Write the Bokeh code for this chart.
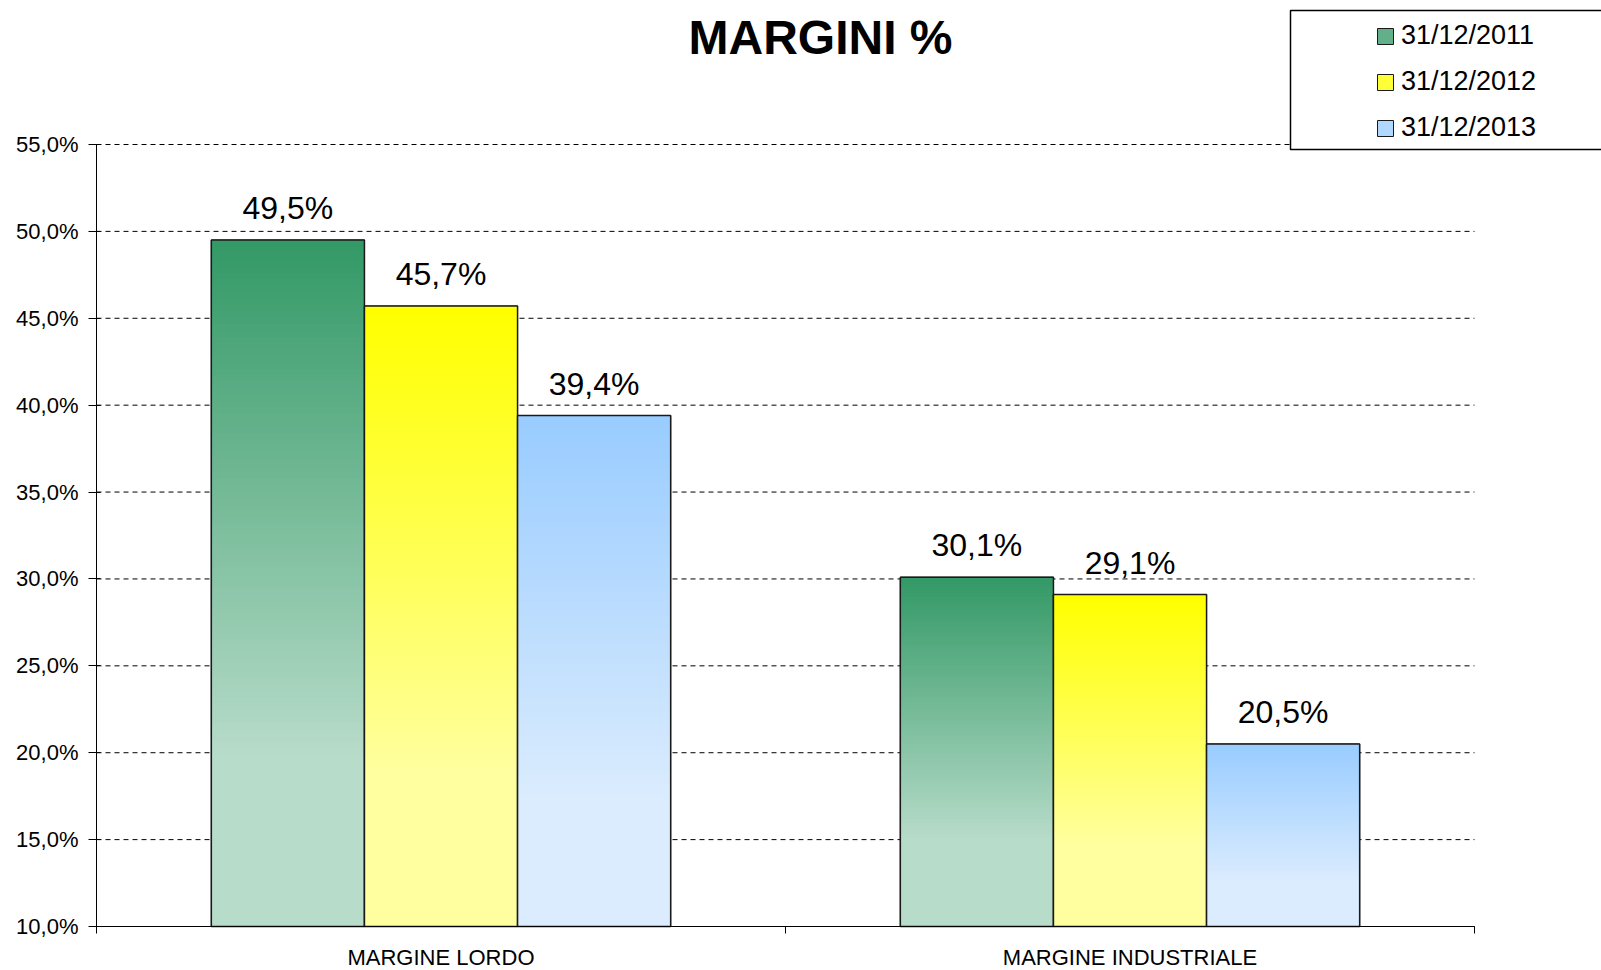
from bokeh.plotting import figure
from bokeh.models import Range1d, FixedTicker, Label, Legend, LegendItem, BoxAnnotation
from bokeh.core.properties import value
from bokeh.embed import file_html
from bokeh.resources import INLINE

# ---------------- data ----------------
categories = ["MARGINE LORDO", "MARGINE INDUSTRIALE"]
series_names = ["31/12/2011", "31/12/2012", "31/12/2013"]
margins_2011 = [49.5, 30.1]
margins_2012 = [45.7, 29.1]
margins_2013 = [39.4, 20.5]
y_ticks = [10, 15, 20, 25, 30, 35, 40, 45, 50, 55]
y_tick_labels = ["10,0%", "15,0%", "20,0%", "25,0%", "30,0%",
                 "35,0%", "40,0%", "45,0%", "50,0%", "55,0%"]
title_text = "MARGINI %"

# ---------------- style / layout ----------------
FONT = "Liberation Sans"
dark_colors = ["#339966", "#FFFF00", "#99CCFF"]
light_colors = ["#B8DCCA", "#FFFFA0", "#DBECFE"]
edge = "#1A1A1A"

W, H = 1601, 970
# pixel box of the plotting area inside the canvas
PL, PR, PT, PB = 96, 1474, 144, 926
Y0, Y1 = y_ticks[0], y_ticks[-1]
X0, X1 = 0, len(categories)
sx = (PR - PL) / (X1 - X0)   # px per x unit
sy = (PB - PT) / (Y1 - Y0)   # px per y unit
x_range = Range1d(X0 - PL / sx, X1 + (W - PR) / sx)
y_range = Range1d(Y0 - (H - PB) / sy, Y1 + PT / sy)


def px_to_data(px, py):
    """canvas pixel -> data coordinates (used only to place texts / legend frame)"""
    return X0 + (px - PL) / sx, Y0 + (PB - py) / sy


def hex2rgb(h):
    h = h.lstrip("#")
    return tuple(int(h[i:i + 2], 16) for i in (0, 2, 4))


def mix(c1, c2, t):
    a, b = hex2rgb(c1), hex2rgb(c2)
    return "#%02x%02x%02x" % tuple(int(round(a[i] + (b[i] - a[i]) * t)) for i in range(3))


def fmt(v):
    return ("%.1f%%" % v).replace(".", ",")


p = figure(width=W, height=H, x_range=x_range, y_range=y_range,
           output_backend="svg", toolbar_location=None,
           min_border=0, min_border_left=0, min_border_right=0,
           min_border_top=0, min_border_bottom=0)
p.outline_line_color = None
p.background_fill_color = "white"
p.border_fill_color = "white"

# ---------------- axes (fixed inside the canvas) ----------------
p.yaxis.fixed_location = X0
p.yaxis.bounds = (Y0, Y1)
p.yaxis.ticker = FixedTicker(ticks=y_ticks)
p.yaxis.major_label_overrides = {t: l for t, l in zip(y_ticks, y_tick_labels)}
p.yaxis.major_label_text_font = FONT
p.yaxis.major_label_text_font_size = "22px"
p.yaxis.major_label_text_color = "black"
p.yaxis.major_label_standoff = 10
p.yaxis.major_tick_in = 4
p.yaxis.major_tick_out = 8
p.yaxis.minor_tick_line_color = None
p.yaxis.axis_line_color = "black"
p.yaxis.major_tick_line_color = "black"

p.xaxis.fixed_location = Y0
p.xaxis.bounds = (X0, X1)
p.xaxis.ticker = FixedTicker(ticks=[i + 0.5 for i in range(len(categories))],
                             minor_ticks=list(range(X0, X1 + 1)))
p.xaxis.major_label_overrides = {i + 0.5: c for i, c in enumerate(categories)}
p.xaxis.major_label_text_font = FONT
p.xaxis.major_label_text_font_size = "22px"
p.xaxis.major_label_text_color = "black"
p.xaxis.major_label_standoff = 11
p.xaxis.major_tick_in = 0
p.xaxis.major_tick_out = 0
p.xaxis.major_tick_line_color = None
p.xaxis.minor_tick_in = 0
p.xaxis.minor_tick_out = 7
p.xaxis.minor_tick_line_color = "black"
p.xaxis.axis_line_color = "black"

p.xgrid.grid_line_color = None
p.ygrid.grid_line_color = None

# dashed horizontal grid lines across the category span
p.segment(x0=[X0] * len(y_ticks), x1=[X1] * len(y_ticks), y0=y_ticks, y1=y_ticks,
          line_color="black", line_width=1, line_dash="5 4")

# ---------------- bars ----------------
all_series = [margins_2011, margins_2012, margins_2013]
n = len(all_series)
bar_w = 1.0 / (n + 1.5)
N = 80
legend_items = []
for j, vals in enumerate(all_series):
    xs = [i + 0.5 + (j - (n - 1) / 2) * bar_w for i in range(len(categories))]
    # base bar (covered by the gradient, used for the legend swatch)
    base = p.vbar(x=xs, top=vals, bottom=Y0, width=bar_w,
                  fill_color=mix(dark_colors[j], light_colors[j], 0.35),
                  line_color=edge, line_width=1)
    lefts, rights, tops, colors = [], [], [], []
    for x, v in zip(xs, vals):
        grad_bottom = Y0 + 0.25 * (v - Y0)
        for k in range(N + 1):
            t = k / N
            lefts.append(x - bar_w / 2)
            rights.append(x + bar_w / 2)
            tops.append(v - t * (v - grad_bottom))
            colors.append(mix(dark_colors[j], light_colors[j], t))
    p.quad(left=lefts, right=rights, bottom=Y0, top=tops,
           fill_color=colors, line_color=None)
    p.vbar(x=xs, top=vals, bottom=Y0, width=bar_w, fill_color=None,
           line_color=edge, line_width=1.5)
    p.text(x=xs, y=vals, text=[fmt(v) for v in vals], y_offset=-32,
           text_align="center", text_baseline="alphabetic",
           text_font=value(FONT), text_font_size=value("32px"), text_color="black")
    legend_items.append(LegendItem(label=series_names[j], renderers=[base]))

# ---------------- title ----------------
tx, ty = px_to_data(820, 37)
p.add_layout(Label(x=tx, y=ty, text=title_text, text_align="center",
                   text_baseline="alphabetic", text_font=FONT,
                   text_font_style="bold", text_font_size="48px", text_color="black"))

# ---------------- legend ----------------
bl, bt = px_to_data(1290, 10)
br, bb = px_to_data(1640, 149)
p.add_layout(BoxAnnotation(left=bl, right=br, top=bt, bottom=bb,
                           fill_color="white", fill_alpha=1.0,
                           line_color="black", line_alpha=1.0, line_width=1.5))

legend = Legend(items=legend_items, location=(1375, H - 143), orientation="vertical",
                padding=0, margin=0, spacing=15, glyph_width=20, glyph_height=20,
                label_height=30, label_standoff=6, label_text_font=FONT,
                label_text_font_size="27px", label_text_color="black",
                border_line_color=None, background_fill_alpha=0)
p.add_layout(legend)

open("out.html", "w").write(file_html(p, INLINE))
